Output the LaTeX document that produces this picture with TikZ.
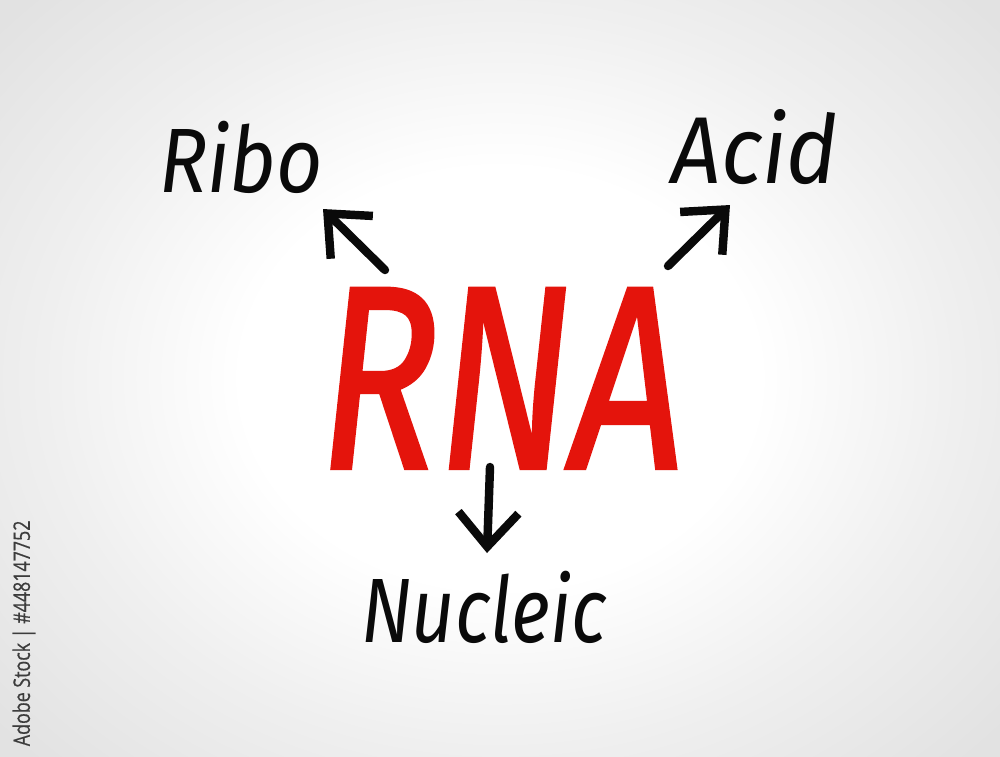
\documentclass[tikz,border=0pt]{standalone}
\usepackage{fontspec}
\setmainfont{Fira Sans}
\newfontfamily\rnafont{Fira Sans}[FakeBold=1.6]
\newfontfamily\sidefont{Open Sans}[FakeBold=0.6]
\usetikzlibrary{arrows.meta}
\definecolor{rnared}{RGB}{228,20,12}
\definecolor{ink}{RGB}{10,10,10}
\definecolor{bgedge}{RGB}{226,226,226}
\definecolor{sidegray}{RGB}{60,60,60}
\pgfdeclareradialshading{bgshade}{\pgfpoint{0cm}{0cm}}{%
  color(0cm)=(white); color(0.35cm)=(white); color(0.62cm)=(bgedge!55!white); color(0.9cm)=(bgedge); color(1.2cm)=(bgedge)}
\tikzset{
  word/.style={font=\itshape\fontsize{26}{30}\selectfont, text=ink, inner sep=0pt, anchor=base},
  bigword/.style={font=\rnafont\itshape\fontsize{74}{80}\selectfont, text=rnared, inner sep=0pt, anchor=base},
  hand arrow/.style={draw=ink, line width=2.4pt, line cap=round, line join=round,
    -{Straight Barb[length=3.4mm,width=6mm,line width=2.4pt]}}
}
\begin{document}
\begin{tikzpicture}[x=0.01cm,y=-0.01cm]
  \useasboundingbox (0,0) rectangle (1000,756);
  \begin{scope}
    \clip (0,0) rectangle (1000,756);
    \shade[shading=bgshade] (-150,-150) rectangle (1150,906);
    \node[font=\sidefont\fontsize{6.5}{7.5}\selectfont, text=sidegray, rotate=90, anchor=east, inner sep=0pt, xscale=0.78]
      (side) at (24,520) {Adobe Stock | \#448147752};
  \end{scope}
  \node[bigword, xscale=0.76] (rna) at (502,468) {RNA};
  \node[word, xscale=0.88] (ribo) at (241,192) {Ribo};
  \node[word, xscale=0.92, font=\itshape\fontsize{27}{30}\selectfont] (acid) at (755,183) {Acid};
  \node[word, xscale=0.82] (nucleic) at (484,642) {Nucleic};
  \coordinate (riboS) at (385,270);
  \coordinate (riboE) at (323,209);
  \coordinate (acidS) at (668,266);
  \coordinate (acidE) at (730,205);
  \coordinate (nucS) at (490,467);
  \coordinate (nucE) at (487,553);
  \draw[hand arrow] (riboS) -- (riboE);
  \draw[hand arrow] (acidS) -- (acidE);
  \draw[hand arrow] (nucS) -- (nucE);
\end{tikzpicture}
\end{document}
